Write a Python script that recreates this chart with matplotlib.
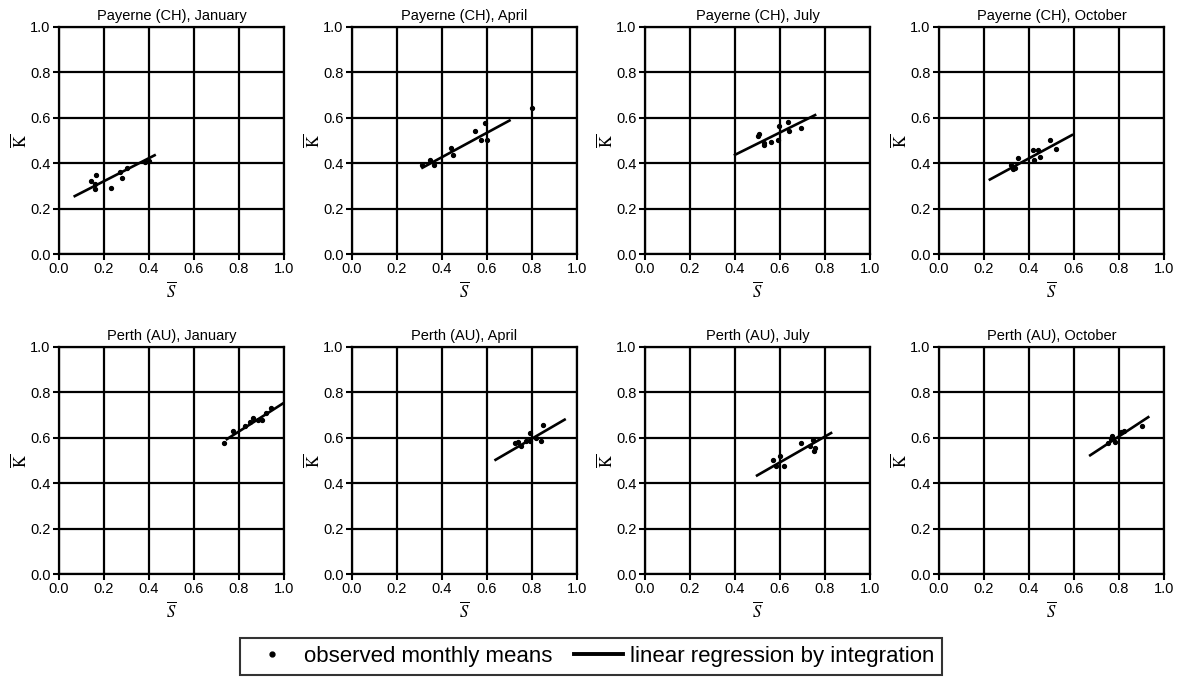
import numpy as np
import matplotlib
matplotlib.use("Agg")
import matplotlib.pyplot as plt
from matplotlib.lines import Line2D

plt.rcParams['font.family'] = ['Liberation Sans', 'DejaVu Sans']
plt.rcParams['mathtext.fontset'] = 'stix'

titles = ['Payerne (CH), January', 'Payerne (CH), April',
          'Payerne (CH), July', 'Payerne (CH), October',
          'Perth (AU), January', 'Perth (AU), April',
          'Perth (AU), July', 'Perth (AU), October']

# observed monthly means (S, K)
pay_jan_s = [0.14, 0.165, 0.16, 0.16, 0.23, 0.28, 0.30, 0.27, 0.38, 0.40]
pay_jan_k = [0.32, 0.35, 0.31, 0.285, 0.29, 0.335, 0.38, 0.36, 0.405, 0.41]
pay_apr_s = [0.31, 0.347, 0.365, 0.44, 0.448, 0.547, 0.592, 0.573, 0.598, 0.80]
pay_apr_k = [0.39, 0.415, 0.39, 0.468, 0.435, 0.544, 0.577, 0.502, 0.504, 0.642]
pay_jul_s = [0.504, 0.507, 0.529, 0.559, 0.59, 0.596, 0.637, 0.641, 0.692, 0.53]
pay_jul_k = [0.519, 0.527, 0.479, 0.493, 0.504, 0.563, 0.581, 0.542, 0.556, 0.49]
pay_oct_s = [0.32, 0.338, 0.327, 0.353, 0.417, 0.44, 0.423, 0.451, 0.494, 0.519]
pay_oct_k = [0.394, 0.379, 0.376, 0.424, 0.459, 0.459, 0.415, 0.426, 0.504, 0.463]
per_jan_s = [0.734, 0.772, 0.828, 0.864, 0.884, 0.903, 0.94, 0.85, 0.92]
per_jan_k = [0.575, 0.632, 0.654, 0.686, 0.678, 0.678, 0.733, 0.67, 0.71]
per_apr_s = [0.726, 0.737, 0.749, 0.793, 0.793, 0.818, 0.839, 0.851, 0.774]
per_apr_k = [0.576, 0.58, 0.563, 0.623, 0.586, 0.599, 0.588, 0.656, 0.588]
per_jul_s = [0.569, 0.583, 0.601, 0.616, 0.694, 0.746, 0.754, 0.751, 0.735]
per_jul_k = [0.501, 0.476, 0.519, 0.476, 0.579, 0.591, 0.557, 0.543, 0.566]
per_oct_s = [0.752, 0.766, 0.771, 0.783, 0.82, 0.904, 0.809]
per_oct_k = [0.575, 0.594, 0.609, 0.58, 0.632, 0.652, 0.624]

obs_s = [pay_jan_s, pay_apr_s, pay_jul_s, pay_oct_s,
         per_jan_s, per_apr_s, per_jul_s, per_oct_s]
obs_k = [pay_jan_k, pay_apr_k, pay_jul_k, pay_oct_k,
         per_jan_k, per_apr_k, per_jul_k, per_oct_k]

# regression line end points (S range, K range)
reg_s = [[0.07, 0.425], [0.313, 0.70], [0.40, 0.756], [0.226, 0.591],
         [0.746, 0.993], [0.638, 0.945], [0.498, 0.827], [0.672, 0.93]]
reg_k = [[0.255, 0.435], [0.380, 0.588], [0.437, 0.612], [0.328, 0.524],
         [0.594, 0.750], [0.503, 0.680], [0.434, 0.621], [0.523, 0.691]]

ticks = [0.0, 0.2, 0.4, 0.6, 0.8, 1.0]
tick_labels = ['0.0', '0.2', '0.4', '0.6', '0.8', '1.0']

W, H = 1182, 679
fig = plt.figure(figsize=(W / 100, H / 100), dpi=100)

col_left = [59, 352, 645, 939]
row_top = [27, 347]
ax_w, ax_h = 225, 227

for i in range(8):
    r, c = divmod(i, 4)
    ax = fig.add_axes([col_left[c] / W, (H - row_top[r] - ax_h) / H, ax_w / W, ax_h / H])
    ax.plot(obs_s[i], obs_k[i], 'o', color='black', ms=2.8, zorder=3, clip_on=False)
    ax.plot(reg_s[i], reg_k[i], '-', color='black', lw=1.9, zorder=3)
    ax.set_xlim(0, 1)
    ax.set_ylim(0, 1)
    ax.set_xticks(ticks)
    ax.set_yticks(ticks)
    ax.set_xticklabels(tick_labels)
    ax.set_yticklabels(tick_labels)
    ax.grid(True, color='black', lw=1.6)
    ax.set_axisbelow(True)
    for sp in ax.spines.values():
        sp.set_color('black')
        sp.set_linewidth(1.6)
    ax.tick_params(direction='out', length=4, width=1.5, labelsize=10.5, pad=2)
    ax.set_title(titles[i], fontsize=10.5, pad=5)
    ax.set_xlabel(r'$\overline{S}$', fontsize=12, labelpad=3)
    ax.set_ylabel(r'$\overline{\mathrm{K}}$', fontsize=12, labelpad=1)

handles = [Line2D([], [], marker='o', ls='none', color='black', ms=3.5),
           Line2D([], [], ls='-', color='black', lw=2.8)]
leg = fig.legend(handles, ['observed monthly means', 'linear regression by integration'],
                 loc='center', bbox_to_anchor=(0.5, 0.0335), ncol=2, fontsize=16,
                 frameon=True, fancybox=False, handlelength=2.2, handletextpad=0.3,
                 columnspacing=1.0, borderpad=0.35, borderaxespad=0)
leg.get_frame().set_edgecolor('black')
leg.get_frame().set_linewidth(1.5)

fig.savefig('out.png', dpi=100)
